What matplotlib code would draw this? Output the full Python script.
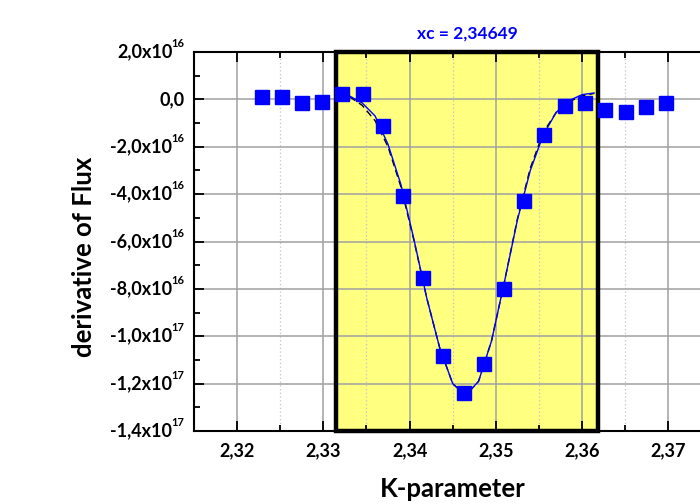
import matplotlib
matplotlib.use('Agg')
import matplotlib.pyplot as plt
from matplotlib.patches import Rectangle
from matplotlib.ticker import MultipleLocator

plt.rcParams['font.family'] = ['Lato', 'DejaVu Sans']
plt.rcParams['font.weight'] = 'bold'

# measured points (flux derivative in units of 1e16)
k_param = [2.32287, 2.32519, 2.32751, 2.32983, 2.33215, 2.33455, 2.33687,
           2.33926, 2.34158, 2.34390, 2.34626, 2.34858, 2.35090, 2.35330,
           2.35561, 2.35802, 2.36034, 2.36269, 2.36506, 2.36738, 2.36973]
flux_deriv = [0.09, 0.09, -0.14, -0.10, 0.23, 0.21, -1.11, -4.10, -7.52,
              -10.84, -12.40, -11.16, -8.00, -4.29, -1.51, -0.28, -0.14,
              -0.45, -0.53, -0.32, -0.17]

# fitted peak curve (blue) and second fit (black dashed)
fit_k = [2.3318, 2.3330, 2.3345, 2.3360, 2.3375, 2.3390, 2.3405, 2.3420,
         2.3435, 2.3450, 2.3465, 2.3480, 2.3495, 2.3510, 2.3525, 2.3540,
         2.3555, 2.3570, 2.3585, 2.3600, 2.3614]
fit_y = [0.22, 0.15, -0.15, -0.70, -1.90, -3.60, -5.90, -8.40, -10.50,
         -12.00, -12.50, -11.90, -10.20, -7.70, -5.10, -3.00, -1.50,
         -0.55, -0.05, 0.20, 0.27]
fit2_y = [0.22, 0.12, -0.25, -0.90, -2.00, -3.70, -5.95, -8.40, -10.50,
          -12.00, -12.50, -11.90, -10.20, -7.70, -5.05, -2.90, -1.40,
          -0.55, -0.10, 0.15, 0.25]

xc_label = 'xc = 2,34649'
window = [2.33150, 2.36185]

xticks = [2.32, 2.33, 2.34, 2.35, 2.36, 2.37]
xtick_labels = ['2,32', '2,33', '2,34', '2,35', '2,36', '2,37']
yticks = [2, 0, -2, -4, -6, -8, -10, -12, -14]
ytick_main = ['2,0x10', '0,0', '-2,0x10', '-4,0x10', '-6,0x10', '-8,0x10',
              '-1,0x10', '-1,2x10', '-1,4x10']
ytick_exp = ['16', '', '16', '16', '16', '16', '17', '17', '17']

fig = plt.figure(figsize=(7, 5.04), dpi=100)
ax = fig.add_axes([194 / 700, 73 / 504, (711.4 - 194) / 700, 379 / 504])

ax.set_xlim(2.315, 2.375)
ax.set_ylim(-14, 2)

# yellow window
ax.axvspan(window[0], window[1], color='#ffff80', zorder=0)

ax.set_xticks(xticks)
ax.set_xticklabels(xtick_labels)
ax.set_yticks(yticks)
ax.set_yticklabels([])
ax.xaxis.set_minor_locator(MultipleLocator(0.005))
ax.yaxis.set_minor_locator(MultipleLocator(1))

ax.grid(True, which='major', color='#a0a0a0', lw=1.1, zorder=1)
ax.grid(True, which='minor', axis='x', color='#c0c0d4', lw=0.9,
        ls=(0, (1, 2)), zorder=1)
ax.set_axisbelow(True)

ax.tick_params(which='both', direction='in', top=True, right=False,
               width=1.3, labelsize=13)
ax.tick_params(which='major', length=7)
ax.tick_params(which='minor', length=4)
ax.tick_params(axis='x', pad=8)
for s in ax.spines.values():
    s.set_linewidth(1.5)

# y tick labels with raised exponents
for yv, main, ex in zip(yticks, ytick_main, ytick_exp):
    shift = 8.5 if ex else 0
    ax.annotate(main, xy=(0, yv), xycoords=('axes fraction', 'data'),
                xytext=(-7 - shift, 0), textcoords='offset points',
                ha='right', va='center', fontsize=13, fontweight='bold')
    if ex:
        ax.annotate(ex, xy=(0, yv), xycoords=('axes fraction', 'data'),
                    xytext=(-7, 6), textcoords='offset points',
                    ha='right', va='center', fontsize=8, fontweight='bold')

ax.add_patch(Rectangle((window[0], -14), window[1] - window[0], 16,
                       fill=False, ec='black', lw=3.2, zorder=3,
                       clip_on=False))

ax.plot(fit_k, fit2_y, color='black', lw=1, ls=(0, (5, 3)), zorder=2)
ax.plot(fit_k, fit_y, color='#0000ff', lw=1, zorder=2.5)
ax.plot(k_param, flux_deriv, 's', color='#0000ff', ms=10, zorder=4,
        clip_on=False)

ax.text(sum(window) / 2, 1.05, xc_label, transform=ax.get_xaxis_transform(),
        ha='center', va='center', color='#0000ff', fontsize=12.5,
        fontweight='bold')

ax.set_xlabel('K-parameter', fontsize=18.5, fontweight='bold', labelpad=13)
fig.text(84 / 700, 1 - 257 / 504, 'derivative of Flux', rotation=90,
         ha='center', va='center', fontsize=18.5, fontweight='bold')

fig.savefig('out.png', dpi=100)
